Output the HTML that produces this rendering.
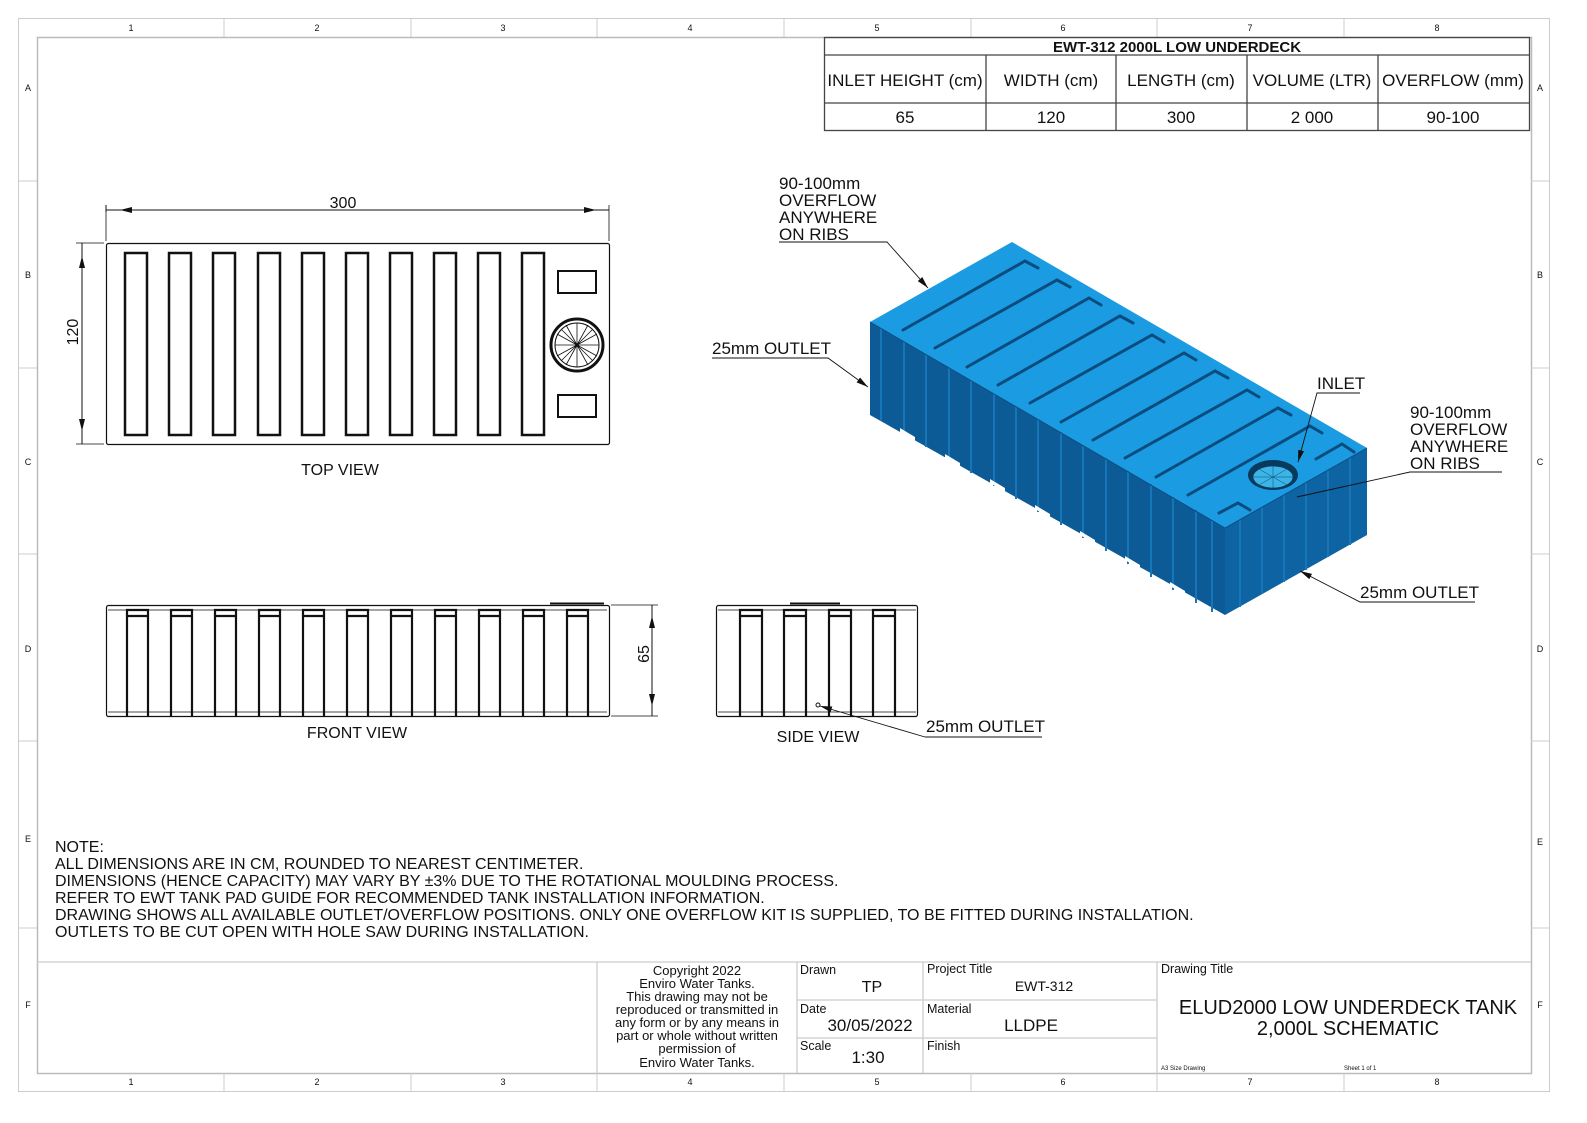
<!DOCTYPE html>
<html><head><meta charset="utf-8"><style>
html,body{margin:0;padding:0;background:#fff;overflow:hidden}
svg{display:block}
text{font-family:"Liberation Sans",sans-serif;fill:#111}
</style></head><body>
<svg width="1587" height="1123" viewBox="0 0 1587 1123" xmlns="http://www.w3.org/2000/svg">
<defs>
<marker id="ar" markerWidth="12" markerHeight="6" refX="12" refY="3" orient="auto" markerUnits="userSpaceOnUse"><path d="M0,0 L12,3 L0,6 z" fill="#111"/></marker>
</defs>
<!-- frame -->
<rect x="18.5" y="18.5" width="1531" height="1073" fill="none" stroke="#ccc" stroke-width="1"/>
<rect x="37.5" y="37.5" width="1494" height="1036" fill="none" stroke="#bbb" stroke-width="1.5"/>
<g stroke="#ccc" stroke-width="1">
<path d="M224,18V37M411,18V37M597,18V37M784,18V37M971,18V37M1157,18V37M1344,18V37"/>
<path d="M224,1073V1092M411,1073V1092M597,1073V1092M784,1073V1092M971,1073V1092M1157,1073V1092M1344,1073V1092"/>
<path d="M18,181H37M18,368H37M18,554H37M18,741H37M18,928H37"/>
<path d="M1531,181H1550M1531,368H1550M1531,554H1550M1531,741H1550M1531,928H1550"/>
</g>
<g font-size="9" text-anchor="middle" fill="#333">
<text x="131" y="31">1</text><text x="317" y="31">2</text><text x="503" y="31">3</text><text x="690" y="31">4</text><text x="877" y="31">5</text><text x="1063" y="31">6</text><text x="1250" y="31">7</text><text x="1437" y="31">8</text>
<text x="131" y="1085">1</text><text x="317" y="1085">2</text><text x="503" y="1085">3</text><text x="690" y="1085">4</text><text x="877" y="1085">5</text><text x="1063" y="1085">6</text><text x="1250" y="1085">7</text><text x="1437" y="1085">8</text>
<text x="28" y="91">A</text><text x="28" y="278">B</text><text x="28" y="465">C</text><text x="28" y="652">D</text><text x="28" y="842">E</text><text x="28" y="1008">F</text>
<text x="1540" y="91">A</text><text x="1540" y="278">B</text><text x="1540" y="465">C</text><text x="1540" y="652">D</text><text x="1540" y="845">E</text><text x="1540" y="1008">F</text>
</g>
<!-- spec table -->
<g stroke="#444" stroke-width="1.3" fill="none">
<rect x="824.5" y="37.5" width="705" height="93"/>
<path d="M824,55H1530M824,103H1530M986,55V130M1116,55V130M1247,55V130M1378,55V130"/>
</g>
<text x="1177" y="52" font-size="15" font-weight="bold" text-anchor="middle">EWT-312 2000L LOW UNDERDECK</text>
<g font-size="17" text-anchor="middle">
<text x="905" y="86">INLET HEIGHT (cm)</text><text x="1051" y="86">WIDTH (cm)</text><text x="1181" y="86">LENGTH (cm)</text><text x="1312" y="86">VOLUME (LTR)</text><text x="1453" y="86">OVERFLOW (mm)</text>
<text x="905" y="123">65</text><text x="1051" y="123">120</text><text x="1181" y="123">300</text><text x="1312" y="123">2 000</text><text x="1453" y="123">90-100</text>
</g>
<!-- TOP VIEW -->
<g stroke="#111" fill="none">
<rect x="106.5" y="243.5" width="503" height="201" rx="2" stroke-width="1.2"/>
<path d="M106,241V205M609,241V205M104,243H76M104,444H76" stroke-width="0.8"/>
<path d="M120,210H596" stroke-width="1" marker-end="url(#ar)"/>
<path d="M596,210H120" stroke-width="1" marker-end="url(#ar)"/>
<path d="M82,256V431" stroke-width="1" marker-end="url(#ar)"/>
<path d="M82,431V256" stroke-width="1" marker-end="url(#ar)"/>
<path d="M106,212V205M82,243V256M82,444V431M609,210H596M106,210H120" stroke-width="1"/>
<g stroke-width="2.5">
<rect x="125" y="253" width="22" height="182"/><rect x="169" y="253" width="22" height="182"/><rect x="213" y="253" width="22" height="182"/><rect x="258" y="253" width="22" height="182"/><rect x="302" y="253" width="22" height="182"/><rect x="346" y="253" width="22" height="182"/><rect x="390" y="253" width="22" height="182"/><rect x="434" y="253" width="22" height="182"/><rect x="478" y="253" width="22" height="182"/><rect x="522" y="253" width="22" height="182"/>
<rect x="558" y="271" width="38" height="22" stroke-width="2"/><rect x="558" y="395" width="38" height="22" stroke-width="2"/>
<circle cx="577" cy="345" r="26" stroke-width="3"/>
</g>
<circle cx="577" cy="345" r="22" stroke-width="1"/>
<path d="M577,323V367M555,345H599M561,329L593,361M561,361L593,329M566,325L588,365M566,365L588,325M557,334L597,356M557,356L597,334" stroke-width="0.8"/>
</g>
<text x="343" y="208" font-size="16" text-anchor="middle">300</text>
<text x="78" y="332" font-size="16" text-anchor="middle" transform="rotate(-90 78 332)">120</text>
<text x="340" y="475" font-size="16" text-anchor="middle">TOP VIEW</text>
<!-- FRONT VIEW -->
<g stroke="#111" fill="none">
<rect x="106.5" y="605.5" width="503" height="111" rx="2" stroke-width="1.2"/>
<path d="M108,610H607M108,712H607" stroke-width="0.8"/>
<path d="M550,603.5H604" stroke-width="2"/>
<g stroke-width="2.2">
<path d="M127,716V610H148V716M127,616H148"/><path d="M171,716V610H192V716M171,616H192"/><path d="M215,716V610H236V716M215,616H236"/><path d="M259,716V610H280V716M259,616H280"/><path d="M303,716V610H324V716M303,616H324"/><path d="M347,716V610H368V716M347,616H368"/><path d="M391,716V610H412V716M391,616H412"/><path d="M435,716V610H456V716M435,616H456"/><path d="M479,716V610H500V716M479,616H500"/><path d="M523,716V610H544V716M523,616H544"/><path d="M567,716V610H588V716M567,616H588"/>
</g>
<path d="M611,605H658M611,716H658" stroke-width="0.8"/>
<path d="M652,706V616" stroke-width="1" marker-end="url(#ar)"/>
<path d="M652,616V706" stroke-width="1" marker-end="url(#ar)"/>
<path d="M652,605V616M652,716V706" stroke-width="1"/>
</g>
<text x="649" y="654" font-size="16" text-anchor="middle" transform="rotate(-90 649 654)">65</text>
<text x="357" y="738" font-size="16" text-anchor="middle">FRONT VIEW</text>
<!-- SIDE VIEW -->
<g stroke="#111" fill="none">
<rect x="716.5" y="605.5" width="201" height="111" rx="2" stroke-width="1.2"/>
<path d="M718,610H916M718,712H916" stroke-width="0.8"/>
<path d="M790,603.5H840" stroke-width="2"/>
<g stroke-width="2.2">
<path d="M740,716V610H762V716M740,616H762"/><path d="M784,716V610H806V716M784,616H806"/><path d="M829,716V610H851V716M829,616H851"/><path d="M873,716V610H895V716M873,616H895"/>
</g>
<circle cx="818" cy="705" r="2" stroke-width="1"/>
<path d="M925,737L820,706" stroke-width="0.9" marker-end="url(#ar)"/>
<path d="M925,737H1042" stroke-width="0.9"/>
</g>
<text x="926" y="732" font-size="17">25mm OUTLET</text>
<text x="818" y="742" font-size="16" text-anchor="middle">SIDE VIEW</text>
<!-- ISO TANK -->
<polygon points="870,322 1225,528 1225,615 870,415" fill="#0c5b96"/>
<polygon points="1225,528 1367,448 1367,535 1225,615" fill="#0e63a2"/>
<polygon points="870,322 1012,242 1367,448 1225,528" fill="#1b9ce2"/>
<g stroke="#1676b8" stroke-width="2">
<path d="M881,328V421M904,342V434M926,355V447M949,368V460M971,381V473M994,394V486M1016,407V499M1038,419V512M1061,432V525M1083,445V538M1106,458V551M1128,471V564M1151,484V577M1173,497V590M1196,510V603M1212,520V612"/>
<path d="M1240,520V607M1262,507V594M1284,495V582M1306,483V570M1328,470V557M1350,458V545"/>
</g>
<g fill="#ffffff">
<polygon points="900,432 915,441 915,437 900,428"/>
<polygon points="945,458 960,467 960,463 945,454"/>
<polygon points="990,483 1005,492 1005,488 990,479"/>
<polygon points="1035,509 1050,518 1050,514 1035,505"/>
<polygon points="1080,535 1095,544 1095,540 1080,531"/>
<polygon points="1125,560 1140,569 1140,565 1125,556"/>
<polygon points="1170,586 1185,595 1185,591 1170,582"/>
<polygon points="1260,598 1280,587 1280,592 1260,603"/>
<polygon points="1310,570 1330,559 1330,564 1310,575"/>
</g>
<path d="M870,322L1225,528L1367,448" fill="none" stroke="#0c4f80" stroke-width="1"/>
<g stroke="#0b4c7e" stroke-width="3" fill="none" stroke-linecap="round">
<path d="M903,330L1025,261L1038,268"/><path d="M935,348L1057,280L1070,287"/><path d="M967,367L1089,298L1101,305"/><path d="M998,385L1120,316L1133,323"/><path d="M1030,403L1152,335L1164,342"/><path d="M1061,422L1184,353L1196,360"/><path d="M1093,440L1215,371L1228,378"/><path d="M1125,458L1247,390L1259,397"/><path d="M1156,477L1278,408L1291,415"/><path d="M1188,495L1310,426L1322,433"/>
<path d="M1219,513L1238,503L1250,510"/><path d="M1316,459L1342,444L1354,452"/>
</g>
<ellipse cx="1273" cy="475" rx="25" ry="15" fill="#083a5e"/>
<ellipse cx="1273" cy="477" rx="20" ry="11" fill="#3cb4e8" stroke="#0a3a5c" stroke-width="0.7"/>
<path d="M1253,477H1293M1273,466V488M1259,469L1287,485M1259,485L1287,469" stroke="#0a4a70" stroke-width="0.5"/>
<!-- iso leaders -->
<g stroke="#111" stroke-width="0.9" fill="none">
<path d="M779,242H887L928,288" marker-end="url(#ar)"/>
<path d="M712,358H828L868,387" marker-end="url(#ar)"/>
<path d="M1360,393H1317L1298,462" marker-end="url(#ar)"/>
<path d="M1502,472H1410L1297,497"/>
<path d="M1475,602H1360L1300,571" marker-end="url(#ar)"/>
</g>
<g font-size="17">
<text x="779" y="189">90-100mm</text><text x="779" y="206">OVERFLOW</text><text x="779" y="223">ANYWHERE</text><text x="779" y="240">ON RIBS</text>
<text x="712" y="354">25mm OUTLET</text>
<text x="1317" y="389">INLET</text>
<text x="1410" y="418">90-100mm</text><text x="1410" y="435">OVERFLOW</text><text x="1410" y="452">ANYWHERE</text><text x="1410" y="469">ON RIBS</text>
<text x="1360" y="598">25mm OUTLET</text>
</g>
<!-- NOTES -->
<g font-size="16">
<text x="55" y="852">NOTE:</text>
<text x="55" y="869">ALL DIMENSIONS ARE IN CM, ROUNDED TO NEAREST CENTIMETER.</text>
<text x="55" y="886">DIMENSIONS (HENCE CAPACITY) MAY VARY BY ±3% DUE TO THE ROTATIONAL MOULDING PROCESS.</text>
<text x="55" y="903">REFER TO EWT TANK PAD GUIDE FOR RECOMMENDED TANK INSTALLATION INFORMATION.</text>
<text x="55" y="920">DRAWING SHOWS ALL AVAILABLE OUTLET/OVERFLOW POSITIONS. ONLY ONE OVERFLOW KIT IS SUPPLIED, TO BE FITTED DURING INSTALLATION.</text>
<text x="55" y="937">OUTLETS TO BE CUT OPEN WITH HOLE SAW DURING INSTALLATION.</text>
</g>
<!-- TITLE BLOCK -->
<g stroke="#ccc" stroke-width="1.3" fill="none">
<path d="M37,962H1531M597,962V1073M797,962V1073M923,962V1073M1157,962V1073M797,1000H1157M797,1038H1157"/>
</g>
<g font-size="13" text-anchor="middle">
<text x="697" y="975">Copyright 2022</text><text x="697" y="988">Enviro Water Tanks.</text><text x="697" y="1001">This drawing may not be</text><text x="697" y="1014">reproduced or transmitted in</text><text x="697" y="1027">any form or by any means in</text><text x="697" y="1040">part or whole without written</text><text x="697" y="1053">permission of</text><text x="697" y="1067">Enviro Water Tanks.</text>
</g>
<g font-size="12.5">
<text x="800" y="974">Drawn</text><text x="800" y="1013">Date</text><text x="800" y="1050">Scale</text>
<text x="927" y="973">Project Title</text><text x="927" y="1013">Material</text><text x="927" y="1050">Finish</text>
<text x="1161" y="973">Drawing Title</text>
</g>
<g text-anchor="middle">
<text x="872" y="992" font-size="16">TP</text>
<text x="870" y="1031" font-size="17">30/05/2022</text>
<text x="868" y="1063" font-size="17">1:30</text>
<text x="1044" y="991" font-size="14">EWT-312</text>
<text x="1031" y="1031" font-size="17">LLDPE</text>
<text x="1348" y="1014" font-size="20">ELUD2000 LOW UNDERDECK TANK</text>
<text x="1348" y="1035" font-size="20">2,000L SCHEMATIC</text>
</g>
<text x="1161" y="1070" font-size="6">A3 Size Drawing</text>
<text x="1344" y="1070" font-size="6">Sheet 1 of 1</text>
</svg>
</body></html>
